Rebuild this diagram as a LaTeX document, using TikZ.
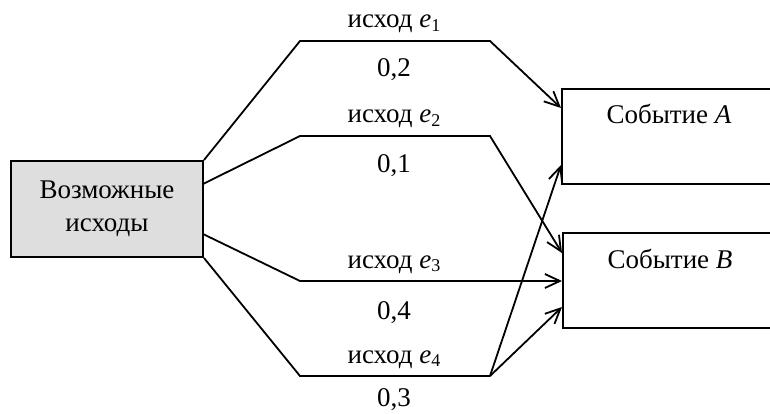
\documentclass[tikz,border=0pt]{standalone}
\usepackage{fontspec}
\setmainfont{Liberation Serif}
\usetikzlibrary{arrows.meta}
\newcommand{\ev}[1]{\textit{e}\raisebox{-0.3ex}{\fontsize{18}{18}\selectfont #1}}
\tikzset{
  conn/.style={line width=1.8pt, line join=miter},
  arr/.style={conn, -{Straight Barb[length=15pt,width=14pt,line width=1.8pt]}},
  lbl/.style={font=\fontsize{27}{30}\selectfont, inner sep=0pt, anchor=base},
  boxstyle/.style={draw, line width=1.9pt, inner sep=0pt},
}
\begin{document}
\begin{tikzpicture}[x=1pt,y=-1pt]
\useasboundingbox (0,0) rectangle (770,414);
% boxes
\node[boxstyle, fill=black!13, minimum width=192pt, minimum height=96pt, align=center, font=\fontsize{27}{33}\selectfont] (src) at (107,209) {Возможные\\исходы};
\node[boxstyle, minimum width=230pt, minimum height=95pt] (A) at (677,136.5) {};
\node[boxstyle, minimum width=230pt, minimum height=95pt] (B) at (678,280.5) {};
\node[lbl] (At) at (669,124) {Событие \textit{A}};
\node[lbl] (Bt) at (670,268) {Событие \textit{B}};
% bend coordinates
\coordinate (s2) at (203,184);
\coordinate (s3) at (203,234);
\coordinate (p1a) at (300,41);  \coordinate (p1b) at (490,41);
\coordinate (p2a) at (300,136); \coordinate (p2b) at (490,136);
\coordinate (p3a) at (300,281);
\coordinate (p4a) at (300,376); \coordinate (p4b) at (490,376);
\coordinate (tA1) at (561,108);
\coordinate (tA2) at (561,165);
\coordinate (tB1) at (562,253);
\coordinate (tB2) at (562,281);
\coordinate (tB3) at (562,307);
% connectors
\draw[arr] (src.north east) -- (p1a) -- (p1b) -- (tA1);
\draw[arr] (s2) -- (p2a) -- (p2b) -- (tB1);
\draw[arr] (s3) -- (p3a) -- (tB2);
\draw[conn] (src.south east) -- (p4a) -- (p4b);
\draw[arr] (p4b) -- (tA2);
\draw[arr] (p4b) -- (tB3);
% labels
\node[lbl] (l1) at (394,28) {исход \ev{1}};
\node[lbl] (v1) at (394,77) {0,2};
\node[lbl] (l2) at (394,123) {исход \ev{2}};
\node[lbl] (v2) at (394,172) {0,1};
\node[lbl] (l3) at (394,268) {исход \ev{3}};
\node[lbl] (v3) at (394,319) {0,4};
\node[lbl] (l4) at (394,363) {исход \ev{4}};
\node[lbl] (v4) at (394,406) {0,3};
\end{tikzpicture}
\end{document}
